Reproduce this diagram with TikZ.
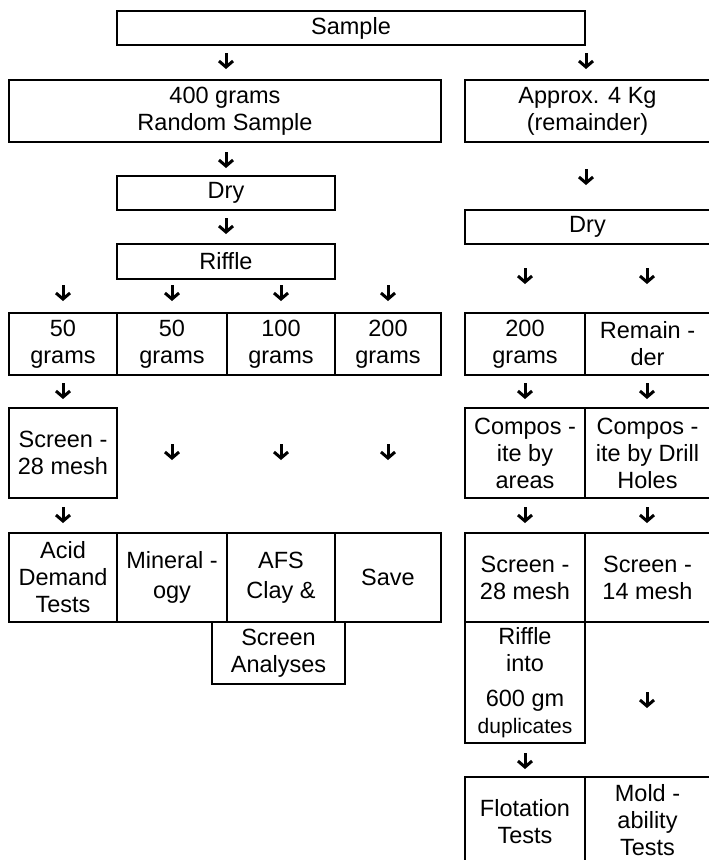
\documentclass[tikz,border=0pt]{standalone}
\usepackage{fontspec}
\setmainfont{Liberation Sans}
\usetikzlibrary{arrows.meta}
\tikzset{
  cellAll/.style={draw, line width=1.2pt, inner sep=0pt, align=center},
  arrowAll/.style={minimum width=18pt, minimum height=20pt, inner sep=0pt,
    path picture={\draw[line width=3pt, -{Straight Barb[length=6pt, width=14pt, line width=3pt]}]
      ([yshift=-2pt]path picture bounding box.north) -- ([yshift=2pt]path picture bounding box.south);}}
}

\begin{document}
\begin{tikzpicture}[x=1pt, y=-1pt, font=\fontsize{23.5}{27}\selectfont]
  \useasboundingbox (0,0) rectangle (709,860);

  % top
  \node[cellAll, minimum width=468, minimum height=34] (Smp) at (351,28) {Sample};
  \node[arrowAll] (A-1) at (226,61) {};
  \node[arrowAll] (A-2) at (586,61) {};

  % left branch
  \node[cellAll, minimum width=432, minimum height=62] (L1) at (225,111) {400 grams\\Random Sample};
  \node[arrowAll] (A-3) at (226,160) {};
  \node[cellAll, minimum width=218, minimum height=34] (L2) at (226,193) {Dry};
  \node[arrowAll] (A-4) at (226,226) {};
  \node[cellAll, minimum width=218, minimum height=35] (L3) at (226,261.5) {Riffle};
  \node[arrowAll] (A-5) at (63,293) {};
  \node[arrowAll] (A-6) at (172,293) {};
  \node[arrowAll] (A-7) at (281,293) {};
  \node[arrowAll] (A-8) at (388,293) {};

  \node[cellAll, minimum width=108, minimum height=62] (L4a) at (63,344) {50\\grams};
  \node[cellAll, minimum width=110, minimum height=62] (L4b) at (172,344) {50\\grams};
  \node[cellAll, minimum width=108, minimum height=62] (L4c) at (281,344) {100\\grams};
  \node[cellAll, minimum width=106, minimum height=62] (L4d) at (388,344) {200\\grams};
  \node[arrowAll] (A-9) at (63,391) {};

  \node[cellAll, minimum width=108, minimum height=90] (L5) at (63,453) {Screen -\\28 mesh};
  \node[arrowAll] (A-10) at (172,452) {};
  \node[arrowAll] (A-11) at (281,452) {};
  \node[arrowAll] (A-12) at (388,452) {};
  \node[arrowAll] (A-13) at (63,515) {};

  \node[cellAll, minimum width=108, minimum height=89] (L6a) at (63,577.5) {Acid\\Demand\\Tests};
  \node[cellAll, minimum width=110, minimum height=89] (L6b) at (172,577.5) {Mineral -\\[3pt]ogy};
  \node[cellAll, minimum width=108, minimum height=89] (L6c) at (281,577.5) {AFS\\[3pt]Clay \&};
  \node[cellAll, minimum width=106, minimum height=89] (L6d) at (388,577.5) {Save};
  \node[cellAll, minimum width=133, minimum height=62] (L7) at (278.5,653) {Screen\\Analyses};

  % right branch
  \node[cellAll, minimum width=245, minimum height=62] (R1) at (587.5,111) {Approx. 4 Kg\\(remainder)};
  \node[arrowAll] (B-1) at (586,177) {};
  \node[cellAll, minimum width=245, minimum height=34] (R2) at (587.5,227) {Dry};
  \node[arrowAll] (B-2) at (525,276) {};
  \node[arrowAll] (B-3) at (647,276) {};

  \node[cellAll, minimum width=120, minimum height=62] (R3a) at (525,344) {200\\grams};
  \node[cellAll, minimum width=125, minimum height=62] (R3b) at (647.5,344) {Remain -\\der};
  \node[arrowAll] (B-4) at (525,391) {};
  \node[arrowAll] (B-5) at (647,391) {};

  \node[cellAll, minimum width=120, minimum height=90] (R4a) at (525,453) {Compos -\\ite by\\areas};
  \node[cellAll, minimum width=125, minimum height=90] (R4b) at (647.5,453) {Compos -\\ite by Drill\\Holes};
  \node[arrowAll] (B-6) at (525,515) {};
  \node[arrowAll] (B-7) at (647,515) {};

  \node[cellAll, minimum width=120, minimum height=89] (R5a) at (525,577.5) {Screen -\\28 mesh};
  \node[cellAll, minimum width=125, minimum height=89] (R5b) at (647.5,577.5) {Screen -\\14 mesh};
  \node[cellAll, minimum width=120, minimum height=121] (R6) at (525,682.5)
    {Riffle\\into\\[8pt]600 gm\\{\fontsize{21}{24}\selectfont duplicates}};
  \node[arrowAll] (B-8) at (647,700) {};
  \node[arrowAll] (B-9) at (525,761) {};

  \node[cellAll, minimum width=120, minimum height=90] (R7a) at (525,822) {Flotation\\Tests};
  \node[cellAll, minimum width=125, minimum height=86] (R7b) at (647.5,820)
    {\fontsize{23.5}{25}\selectfont Mold -\\ability\\Tests};
\end{tikzpicture}
\end{document}
